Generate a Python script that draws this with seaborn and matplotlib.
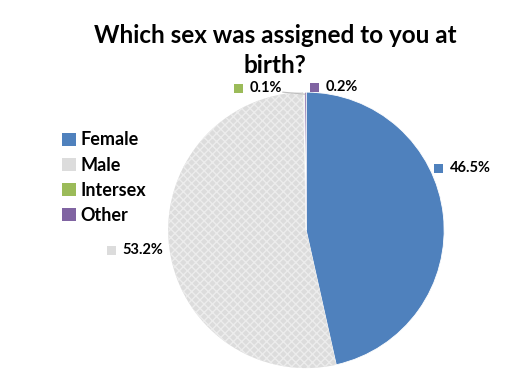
import matplotlib
matplotlib.use("Agg")
import matplotlib.pyplot as plt
from matplotlib.patches import Rectangle
import seaborn as sns

categories = ["Female", "Male", "Intersex", "Other"]
values = [46.5, 53.2, 0.1, 0.2]
value_labels = ["46.5%", "53.2%", "0.1%", "0.2%"]
colors = ["#4f81bd", "#dcdcdc", "#9bbb59", "#8064a2"]
title_lines = ["Which sex was assigned to you at", "birth?"]

sns.set_theme(style="white")
plt.rcParams["font.family"] = ["Lato", "DejaVu Sans"]
plt.rcParams["text.color"] = "black"

fig = plt.figure(figsize=(5.22, 3.92), dpi=100)
ax = fig.add_axes([0.322, 0.061, 0.529, 0.704])
wedges, _ = ax.pie(values, colors=colors, startangle=90, counterclock=False,
                   radius=1.0, wedgeprops=dict(linewidth=0.6, edgecolor="white"))
wedges[1].set_hatch("xxxx")
wedges[1].set_edgecolor("#ececec")
wedges[1].set_linewidth(0.0)
ax.set_xlim(-1, 1)
ax.set_ylim(-1, 1)
ax.set_aspect("equal")
ax.axis("off")

fig.text(0.527, 1 - 43 / 392, title_lines[0], ha="center", va="baseline",
         fontsize=17.5, fontweight="bold", color="black")
fig.text(0.527, 1 - 73 / 392, title_lines[1], ha="center", va="baseline",
         fontsize=17.5, fontweight="bold", color="black")

# data labels (text positions in axes data units)
label_pos = [(1.04, 0.45), (-1.33, -0.145), (-0.41, 1.03), (0.14, 1.035)]
for lab, (x, y), c in zip(value_labels, label_pos, colors):
    ax.text(x, y, lab, ha="left", va="center", fontsize=10.5, fontweight="bold",
            color="black", clip_on=False)
    ax.add_patch(Rectangle((x - 0.11, y - 0.035), 0.065, 0.065, facecolor=c,
                           edgecolor="none", clip_on=False))

# leader line for tiny slices
ax.plot([-0.17, -0.01], [1.0, 0.985], color="#bfbfbf", lw=0.8, clip_on=False)

handles = [Rectangle((0, 0), 1, 1, facecolor=c, edgecolor="none") for c in colors]
leg = fig.legend(handles, categories, loc="upper left", bbox_to_anchor=(0.088, 0.706),
                 frameon=False, prop=dict(weight="bold", size=13),
                 handlelength=0.75, handleheight=0.75, handletextpad=0.25,
                 labelspacing=0.45)
for t in leg.get_texts():
    t.set_color("black")

fig.savefig("out.png", dpi=100, facecolor="white")
